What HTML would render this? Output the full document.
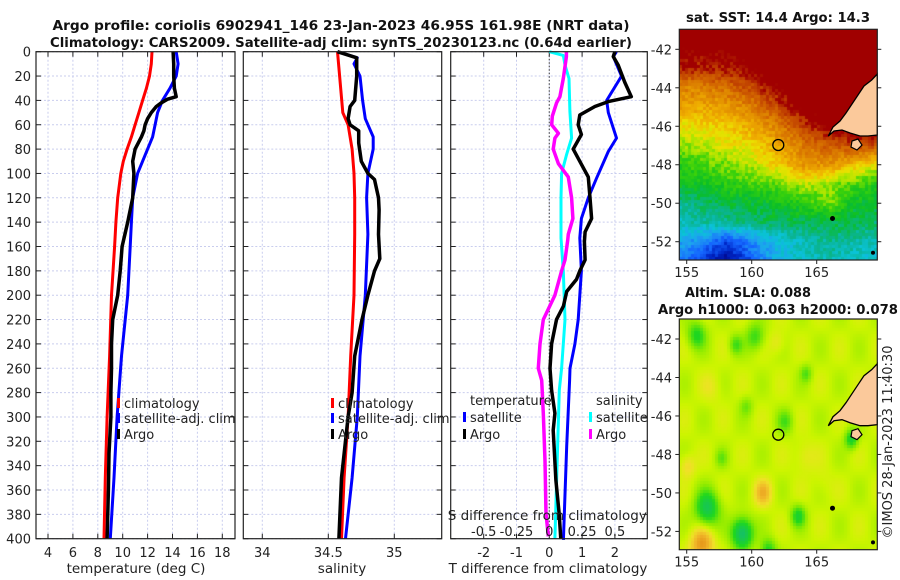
<!DOCTYPE html>
<html><head><meta charset="utf-8">
<style>
html,body{margin:0;padding:0;background:#fff;}
#wrap{position:relative;width:900px;height:580px;overflow:hidden;font-family:"DejaVu Sans","Liberation Sans",sans-serif;}
canvas{position:absolute;}
svg{position:absolute;left:0;top:0;}
</style></head>
<body>
<div id="wrap">
<canvas id="sst" width="198" height="231" style="left:679px;top:29px"></canvas>
<canvas id="sla" width="198" height="231" style="left:679px;top:319px"></canvas>
<svg id="fig" width="900" height="580" xmlns="http://www.w3.org/2000/svg"></svg>
</div>
<script>
// ---------- data ----------
const depthTicks=[0,20,40,60,80,100,120,140,160,180,200,220,240,260,280,300,320,340,360,380,400];
const tTicks=[4,6,8,10,12,14,16,18];
const sTicks=[34,34.5,35];
const tdTicks=[-2,-1,0,1,2];
const sdTicks=[-0.5,-0.25,0,0.25,0.5];
const sdTickLabels=["-0.5","-0.25","0","0.25","0.5"];

const tArgoDepth=[0,10,20,30,37,39,42,45,50,55,60,65,70,80,90,100,110,120,140,160,180,200,210,220,240,260,280,300,330,360,400];
const tArgo=[14.05,14.1,14.1,14.15,14.3,13.6,13.1,12.7,12.3,12.0,11.8,11.7,11.5,11.0,10.8,10.9,10.85,10.8,10.4,9.95,9.8,9.6,9.4,9.2,9.1,9.1,9.05,9.05,8.9,8.85,8.75];
const tClimDepth=[0,10,20,30,40,50,60,70,80,90,100,120,140,160,200,250,300,350,400];
const tClim=[12.35,12.3,12.15,11.9,11.6,11.3,11.0,10.7,10.35,10.05,9.85,9.6,9.45,9.35,9.1,8.95,8.75,8.6,8.5];
const tSatDepth=[0,10,20,30,40,50,60,70,80,100,120,140,160,200,250,300,350,400];
const tSat=[14.3,14.45,14.3,13.8,13.2,12.8,12.6,12.4,12.0,11.2,10.8,10.7,10.6,10.4,9.9,9.55,9.3,9.0];

const sArgoDepth=[0,5,20,40,45,55,60,65,75,90,100,105,120,130,150,170,180,200,220,250,280,300,350,400];
const sArgo=[34.57,34.715,34.715,34.70,34.665,34.65,34.665,34.73,34.73,34.75,34.80,34.85,34.88,34.885,34.88,34.89,34.85,34.80,34.755,34.70,34.68,34.65,34.60,34.58];
const sClimDepth=[0,50,60,80,100,120,150,200,250,300,350,400];
const sClim=[34.57,34.61,34.65,34.68,34.695,34.70,34.70,34.695,34.67,34.65,34.62,34.60];
const sSatDepth=[0,5,10,20,40,55,70,80,100,120,150,200,250,300,350,400];
const sSat=[34.57,34.72,34.695,34.74,34.76,34.78,34.84,34.84,34.80,34.79,34.80,34.78,34.74,34.72,34.68,34.63];

const tdSatDepth=[0,4,20,40,50,71,82,104,120,137,153,180,220,240,260,270,324,401];
const tdSat=[2.05,1.95,2.2,1.75,1.8,2.05,1.8,1.44,1.19,0.98,0.93,0.98,0.88,0.78,0.63,0.62,0.53,0.43];
const tdArgoDepth=[0,4,11,25,37,41,45,52,60,68,80,90,103,120,137,148,156,171,180,187,197,209,220,240,260,278,297,311,352,379,400];
const tdArgo=[2.0,1.95,2.1,2.3,2.5,1.8,1.39,0.93,0.88,0.98,0.73,0.93,1.19,1.24,1.29,1.09,1.07,1.09,0.93,0.83,0.53,0.43,0.22,0.07,0.02,0.07,0.17,0.12,0.2,0.3,0.35];
const sdSatDepth=[0,3,11,22,49,71,85,100,120,153,180,220,260,278,336,400];
const sdSat=[0,0.107,0.12,0.15,0.157,0.17,0.13,0.094,0.089,0.089,0.107,0.12,0.094,0.076,0.06,0.043];
const sdArgoDepth=[0,4,22,37,42,53,60,67,71,80,92,103,120,137,150,155,171,180,200,220,240,260,270,297,336,379,398];
const sdArgo=[0.13,0.13,0.107,0.081,0.056,0.023,0.018,0.069,0.043,0.03,0.069,0.145,0.17,0.18,0.145,0.14,0.12,0.094,0.043,-0.046,-0.071,-0.084,-0.058,-0.046,-0.033,-0.025,-0.008];

// ---------- scales ----------
const yD=d=>51.7+d*1.2175;
const xT=t=>48+(t-4)*12.45;
const xS=s=>262.3+(s-34)*132;
const xTd=v=>549.3+v*32.8;
const xSd=v=>549.3+v*131.2;
const P=[{l:36,r:235},{l:243.3,r:441.7},{l:450.7,r:647.3}];
const TOP=51.7,BOT=538.7;

const NS="http://www.w3.org/2000/svg";
const svg=document.getElementById('fig');
function mk(tag,attrs,parent){const e=document.createElementNS(NS,tag);for(const k in attrs)e.setAttribute(k,attrs[k]);(parent||svg).appendChild(e);return e;}
function txt(s,x,y,attrs){const e=mk('text',Object.assign({x:x,y:y,'font-size':13,fill:'#222'},attrs||{}));e.textContent=s;return e;}

const panelNames=['temperature-panel','salinity-panel','difference-panel'];
P.forEach((p,i)=>{
  const g=mk('g',{});
  
  
  depthTicks.forEach(d=>{
    const ln=mk('line',{x1:p.l,x2:p.r,y1:yD(d),y2:yD(d),stroke:'#c9cdee','stroke-width':1,'stroke-dasharray':'2,2'},g);
    
    
    mk('line',{x1:p.l,x2:p.l+5,y1:yD(d),y2:yD(d),stroke:'#222'},g);
    mk('line',{x1:p.r-5,x2:p.r,y1:yD(d),y2:yD(d),stroke:'#222'},g);
  });
});
function vgrid(pi,vals,sx){
  vals.forEach(v=>{
    const x=sx(v);
    const ln=mk('line',{x1:x,x2:x,y1:TOP,y2:BOT,stroke:'#c9cdee','stroke-width':1,'stroke-dasharray':'2,2'});
    
    
    mk('line',{x1:x,x2:x,y1:BOT-5,y2:BOT,stroke:'#222'});
    mk('line',{x1:x,x2:x,y1:TOP,y2:TOP+5,stroke:'#222'});
  });
}
vgrid(0,tTicks,xT);vgrid(1,sTicks,xS);vgrid(2,tdTicks,xTd);
const zl=mk('line',{x1:xTd(0),x2:xTd(0),y1:TOP,y2:BOT,stroke:'#555','stroke-width':1.2,'stroke-dasharray':'1.5,2'});



depthTicks.forEach(d=>{
  const t=txt(String(d),31,yD(d)+5,{'text-anchor':'end'});
  
  
});
tTicks.forEach(v=>{const t=txt(String(v),xT(v),557,{'text-anchor':'middle'});});
sTicks.forEach(v=>{const t=txt(String(v),xS(v),557,{'text-anchor':'middle'});});
tdTicks.forEach(v=>{const t=txt(String(v),xTd(v),557,{'text-anchor':'middle'});});

function series(depths,vals,sx,color,w,name){
  const pts=depths.map((d,i)=>sx(vals[i]).toFixed(1)+','+yD(d).toFixed(1)).join(' ');
  const pl=mk('polyline',{points:pts,fill:'none',stroke:color,'stroke-width':w,'stroke-linejoin':'round'});
  
  
}
series(tClimDepth,tClim,xT,'#ff0000',3,'temperature-climatology-line');
series(tSatDepth,tSat,xT,'#0000ff',3,'temperature-satellite-line');
series(tArgoDepth,tArgo,xT,'#000',3.5,'temperature-argo-line');
series(sClimDepth,sClim,xS,'#ff0000',3,'salinity-climatology-line');
series(sSatDepth,sSat,xS,'#0000ff',3,'salinity-satellite-line');
series(sArgoDepth,sArgo,xS,'#000',3.5,'salinity-argo-line');
series(sdSatDepth,sdSat,xSd,'#00ffff',3,'s-diff-satellite-line');
series(sdArgoDepth,sdArgo,xSd,'#ff00ff',3.5,'s-diff-argo-line');
series(tdSatDepth,tdSat,xTd,'#0000ff',3,'t-diff-satellite-line');
series(tdArgoDepth,tdArgo,xTd,'#000',3.5,'t-diff-argo-line');

P.forEach(p=>{mk('rect',{x:p.l,y:TOP,width:p.r-p.l,height:BOT-TOP,fill:'none',stroke:'#222','stroke-width':1.2});});

const sdt=txt('S difference from climatology',xSd(0)-2,520,{'text-anchor':'middle','font-size':13.5});


sdTicks.forEach((v,i)=>{const t=txt(sdTickLabels[i],xSd(v),536,{'text-anchor':'middle'});});

[['temperature (deg C)',136,'temperature-axis-title'],['salinity',342,'salinity-axis-title'],['T difference from climatology',548,'t-diff-axis-title']].forEach(a=>{
  const t=txt(a[0],a[1],573,{'text-anchor':'middle','font-size':13.5});
  
  
});

function legend2(x,y,color,label){
  const g=mk('g',{});
  
  
  if(color) mk('rect',{x:x-7,y:y-10,width:3,height:10,fill:color},g);
  const t=mk('text',{x:x,y:y,'font-size':13,fill:'#222'},g);t.textContent=label;
}
legend2(124,408,'#ff0000','climatology');
legend2(124,423,'#0000ff','satellite-adj. clim');
legend2(124,439,'#000','Argo');
legend2(338,408,'#ff0000','climatology');
legend2(338,423,'#0000ff','satellite-adj. clim');
legend2(338,439,'#000','Argo');
legend2(470,405,null,'temperature');
legend2(470,422,'#0000ff','satellite');
legend2(470,439,'#000','Argo');
legend2(596,405,null,'salinity');
legend2(596,422,'#00ffff','satellite');
legend2(596,439,'#ff00ff','Argo');

function btxt(s,x,y,len,name){
  const t=mk('text',{x:x,y:y,'font-size':13,'font-weight':'bold','text-anchor':'middle',fill:'#111',textLength:len,lengthAdjust:'spacingAndGlyphs'});
  t.textContent=s;
  
  
}
btxt('Argo profile: coriolis 6902941_146 23-Jan-2023 46.95S 161.98E (NRT data)',341,30,577,'title-line-1');
btxt('Climatology: CARS2009. Satellite-adj clim: synTS_20230123.nc (0.64d earlier)',341,47,582,'title-line-2');
btxt('sat. SST: 14.4 Argo: 14.3',778,22,184,'sst-map-title');
btxt('Altim. SLA: 0.088',748,297,126,'sla-map-title');
btxt('Argo h1000: 0.063 h2000: 0.078',778,314,240,'sla-argo-title');

const mapL=679.3,mapR=877.3,mapW=198,mapH=230.7;
const lonX=lon=>mapL+(lon-154.43)*13;
const latY=(lat,top)=>top+(-40.96-lat)*19.24;
const latTicks=[-42,-44,-46,-48,-50,-52];
const lonTicks=[155,160,165];
[29.3,319].forEach((top,mi)=>{
  latTicks.forEach(l=>{
    const y=latY(l,top);
    const t=txt(String(l),672,y+5,{'text-anchor':'end'});
    
    
    mk('line',{x1:mapR,x2:mapR+4,y1:y,y2:y,stroke:'#222'});
    mk('line',{x1:mapL-4,x2:mapL,y1:y,y2:y,stroke:'#222'});
  });
  lonTicks.forEach(l=>{
    const x=lonX(l);
    const t=txt(String(l),x,top+mapH+17,{'text-anchor':'middle'});
    
    
    mk('line',{x1:x,x2:x,y1:top+mapH,y2:top+mapH+4,stroke:'#222'});
  });
  const off=top-29.3;
  const land=[[877.3,74],[871.7,80],[864,86],[858,95],[852,104],[846,113],[840,121],[833,127],[828.3,136],[834,131],[842,130],[850,133],[860,136],[868,136],[877.3,135]];
  const lp=mk('polygon',{points:land.map(p=>p[0]+','+(p[1]+off)).join(' '),fill:'#fbc99b',stroke:'#000','stroke-width':1.3});
  
  
  mk('polygon',{points:[[852,141],[858,139],[862,145],[857,150],[851,147]].map(p=>p[0]+','+(p[1]+off)).join(' '),fill:'#fbc99b',stroke:'#000','stroke-width':1.2});
  mk('circle',{cx:832.5,cy:218.5+off,r:2.5,fill:'#000'});
  mk('circle',{cx:873,cy:252.7+off,r:2,fill:'#000'});
  const c=mk('circle',{cx:778.3,cy:145+off,r:5.5,fill:'none',stroke:'#000','stroke-width':1.3});
  
  
  mk('rect',{x:mapL,y:top,width:mapW,height:mapH,fill:'none',stroke:'#222','stroke-width':1.2});
});
const wm=mk('text',{x:0,y:0,'font-size':13,fill:'#222','text-anchor':'middle',transform:'translate(892,442) rotate(-90)'});
wm.textContent='©IMOS 28-Jan-2023 11:40:30';



// ---------- map rasters ----------
function hash(i,j){let h=(i*374761393+j*668265263)^0x5bd1e995;h=(h^(h>>>13))*1274126177;return ((h^(h>>>16))>>>0)/4294967295;}
function lerpC(stops,v){
  if(v<=stops[0][0])return stops[0][1];
  for(let k=1;k<stops.length;k++){if(v<=stops[k][0]){const a=stops[k-1],b=stops[k];const f=(v-a[0])/(b[0]-a[0]);return a[1].map((c,i)=>Math.round(c+(b[1][i]-c)*f));}}
  return stops[stops.length-1][1];
}
const sstCm=[[8.6,[0,0,128]],[9.2,[0,40,200]],[9.7,[20,100,255]],[10.2,[30,160,240]],[10.6,[10,195,215]],[11.0,[10,180,150]],[11.5,[10,190,40]],[12.0,[60,210,10]],[12.35,[170,230,0]],[12.7,[235,225,0]],[13.1,[240,175,0]],[13.5,[225,140,0]],[13.9,[210,100,0]],[14.3,[190,60,0]],[14.55,[160,0,0]]];
const gLat=[-41,-43,-44,-45,-46,-47,-48,-49,-50,-51,-52,-53];
const gLon=[154.5,156,158,160,162,164,166,168,169.7];
const G=[
[15,15,15,15,15,15,15,15,15],
[14.5,14.4,14.5,14.7,15,15,15,15,15],
[13.6,13.6,13.8,14.2,14.7,15,15,15,15],
[13.3,13.2,13.3,13.6,14.2,14.8,15,15,15],
[12.7,12.8,12.9,13.2,13.6,14.3,14.8,15,15],
[12.3,12.4,12.6,12.8,13.2,13.7,14.0,14.2,14.2],
[11.8,12.0,12.2,12.4,12.9,13.4,13.4,13.0,12.6],
[11.6,11.6,11.8,12.0,12.1,12.5,12.3,12.0,11.8],
[11.0,11.2,11.4,11.4,11.6,11.8,12.2,11.5,11.5],
[10.8,10.9,11.0,11.2,11.3,11.3,11.4,11.3,11.2],
[10.2,10.1,9.5,10.0,10.5,10.8,11.0,10.9,10.8],
[10.0,9.5,8.7,9.6,10.4,10.7,10.8,10.7,10.6]];
function interp(arr,v){for(let k=0;k<arr.length-1;k++){const a=arr[k],b=arr[k+1];if((v-a)*(v-b)<=0)return [k,(v-a)/(b-a)];}return [arr.length-2,1];}
function sstAt(lon,lat){const [i,fi]=interp(gLat,lat);const [j,fj]=interp(gLon,lon);
  return G[i][j]*(1-fi)*(1-fj)+G[i+1][j]*fi*(1-fj)+G[i][j+1]*(1-fi)*fj+G[i+1][j+1]*fi*fj;}
(function(){
  const ctx=document.getElementById('sst').getContext('2d');
  const cs=3;
  for(let px=0;px<198;px+=cs)for(let py=0;py<231;py+=cs){
    const lon=154.43+(px+1.5)/13, lat=-40.96-(py+1.5)/19.24;
    let v=sstAt(lon,lat)+(hash(px,py)-0.5)*0.45;
    const c=lerpC(sstCm,v);
    ctx.fillStyle='rgb('+c.join(',')+')';ctx.fillRect(px,py,cs,cs);
  }
})();
const slaCm=[[-0.3,[20,160,170]],[-0.2,[20,190,110]],[-0.1,[30,215,30]],[-0.03,[140,235,0]],[0.02,[205,245,0]],[0.06,[240,225,40]],[0.11,[240,180,40]],[0.16,[225,140,20]]];
const blobs=[[155.8,-41.8,-0.12,0.7],[158.8,-42.3,-0.09,0.5],[160.3,-41.9,-0.1,0.7],[164.2,-43.8,-0.08,0.45],[159.6,-45.5,-0.06,0.5],[162.6,-46.3,-0.08,0.6],[157.7,-48.2,-0.06,0.45],[156.6,-50.8,-0.18,0.9],[159.3,-52.1,-0.22,0.8],[163.6,-51.2,-0.13,0.55],[160.9,-50,0.09,0.7],[155.1,-48.6,0.06,0.6],[156.2,-52.7,0.13,0.9],[164.1,-48.1,0.04,0.8],[162,-42.2,0.04,0.6],[167.7,-47.2,-0.14,0.5],[161.3,-53,-0.12,0.6],[157,-44.5,0.03,0.8],[165.5,-49.5,0.02,0.8]];
(function(){
  const ctx=document.getElementById('sla').getContext('2d');
  const cs=3;
  for(let px=0;px<198;px+=cs)for(let py=0;py<231;py+=cs){
    const lon=154.43+(px+1.5)/13, lat=-40.96-(py+1.5)/19.24;
    let v=0.015+0.02*Math.sin(lon*2.1)*Math.cos(lat*1.7);
    blobs.forEach(b=>{const dx=(lon-b[0])/b[3],dy=(lat-b[1])/b[3];v+=b[2]*Math.exp(-(dx*dx+dy*dy));});
    const c=lerpC(slaCm,v);
    ctx.fillStyle='rgb('+c.join(',')+')';ctx.fillRect(px,py,cs,cs);
  }
})();
</script>
</body></html>
